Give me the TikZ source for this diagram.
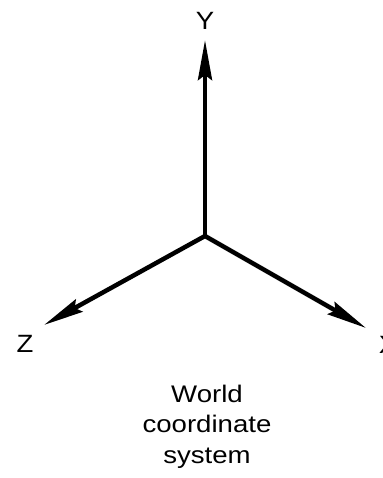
\documentclass[tikz,border=0pt]{standalone}
\usepackage{fontspec}
\setmainfont{Liberation Sans}
\usetikzlibrary{arrows.meta}
\begin{document}
\begin{tikzpicture}[x=1pt,y=-1pt,
  axis/.style={line width=4.5pt,-{Stealth[length=40pt,width=14pt,inset=5pt]}},
  lbl/.style={font=\fontsize{25}{30}\selectfont,inner sep=0pt,anchor=base,xscale=1.1},
  caption/.style={font=\fontsize{24}{30.5}\selectfont,inner sep=0pt,align=center,anchor=base,xscale=1.15}]
\useasboundingbox (0,0) rectangle (382,478);
\clip (0,0) rectangle (382,478);
\fill[white] (0,0) rectangle (382,478);
\coordinate (o) at (205,236);
\coordinate (ytip) at (205,40);
\coordinate (ztip) at (44,325);
\coordinate (xtip) at (366,328);
\draw[axis] (o) -- (ytip);
\draw[axis] (o) -- (ztip);
\draw[axis] (o) -- (xtip);
\node[lbl] (ylab) at (205,30) {Y};
\node[lbl] (zlab) at (25,352) {Z};
\node[lbl] (xlab) at (388,353) {X};
\node[caption] (cap) at (207,463) {World\\coordinate\\system};
\end{tikzpicture}
\end{document}
